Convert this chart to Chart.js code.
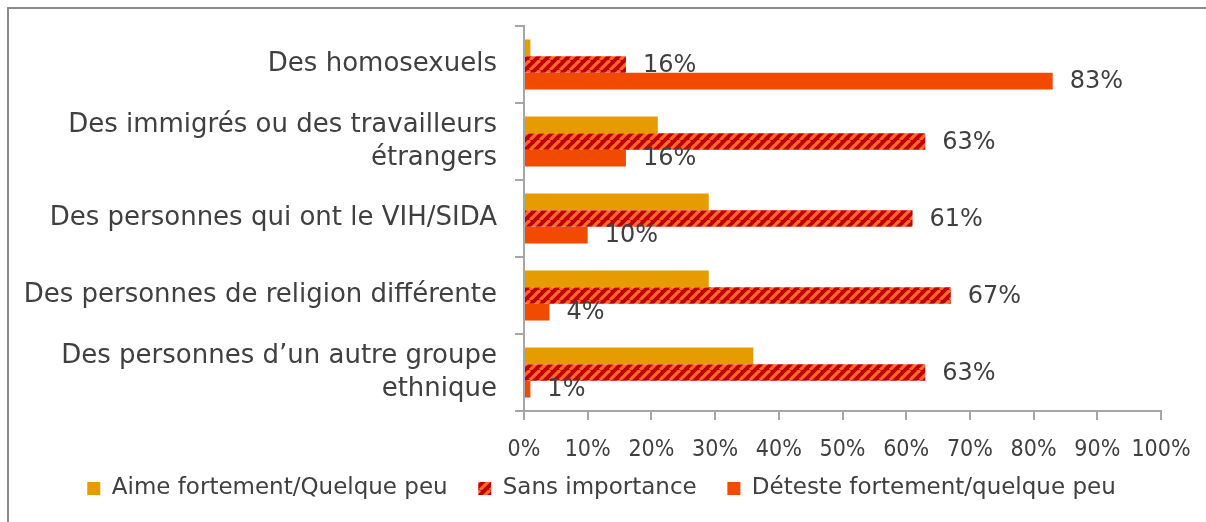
<!DOCTYPE html>
<html>
<head>
<meta charset="utf-8">
<script src="https://cdn.jsdelivr.net/npm/chart.js@4/dist/chart.umd.min.js"></script>
<style>
  html, body { margin: 0; padding: 0; background: #fff; }
  #wrap { width: 1206px; height: 522px; }
</style>
</head>
<body>
<div id="wrap"><canvas id="chart" width="1206" height="522"></canvas></div>
<script>
// catégories (axe vertical)
const categories = [
  "Des homosexuels",
  ["Des immigrés ou des travailleurs", "étrangers"],
  "Des personnes qui ont le VIH/SIDA",
  "Des personnes de religion différente",
  ["Des personnes d’un autre groupe", "ethnique"]
];

// séries (%)
const seriesNames = ["Aime fortement/Quelque peu", "Sans importance", "Déteste fortement/quelque peu"];
const aime = [1, 21, 29, 29, 36];
const sansImportance = [16, 63, 61, 67, 63];
const deteste = [83, 16, 10, 4, 1];

// axe horizontal
const xTicks = [0, 10, 20, 30, 40, 50, 60, 70, 80, 90, 100];

const textColor = "#404040";
const axisColor = "#a6a6a6";
const fontFamily = "'DejaVu Sans', sans-serif";
const condensed = "'DejaVu Sans Condensed', 'DejaVu Sans', sans-serif";

// motif hachuré pour "Sans importance"
function makeHatch() {
  const s = 10;
  const c = document.createElement("canvas");
  c.width = s;
  c.height = s;
  const g = c.getContext("2d");
  g.fillStyle = "#c00000";
  g.fillRect(0, 0, s, s);
  g.strokeStyle = "#ff6a2a";
  g.lineWidth = 3.2;
  [-s, 0, s].forEach(x0 => {
    g.beginPath();
    g.moveTo(x0, s);
    g.lineTo(x0 + s, 0);
    g.stroke();
  });
  return g.createPattern(c, "repeat");
}

const ctx = document.getElementById("chart").getContext("2d");
const hatch = makeHatch();

// étiquettes de valeur à droite des barres
const valueLabels = {
  id: "valueLabels",
  afterDatasetsDraw(chart) {
    const c = chart.ctx;
    c.save();
    c.font = "24px " + fontFamily;
    c.fillStyle = textColor;
    c.textAlign = "left";
    c.textBaseline = "middle";
    [1, 2].forEach(di => {
      const meta = chart.getDatasetMeta(di);
      meta.data.forEach((bar, i) => {
        const v = chart.data.datasets[di].data[i];
        c.fillText(v + "%", bar.x + 17, bar.y + 1);
      });
    });
    c.restore();
  }
};

// cadre (haut et gauche)
const frame = {
  id: "frame",
  beforeDraw(chart) {
    const c = chart.ctx;
    c.save();
    c.strokeStyle = "#8c8c8c";
    c.lineWidth = 2;
    c.beginPath();
    c.moveTo(8, chart.height);
    c.lineTo(8, 8);
    c.lineTo(chart.width, 8);
    c.stroke();
    c.restore();
  }
};

new Chart(ctx, {
  type: "bar",
  data: {
    labels: categories,
    datasets: [
      { label: seriesNames[0], data: aime, backgroundColor: "#e69c00" },
      { label: seriesNames[1], data: sansImportance, backgroundColor: hatch },
      { label: seriesNames[2], data: deteste, backgroundColor: "#f04b00" }
    ]
  },
  options: {
    indexAxis: "y",
    responsive: false,
    animation: false,
    categoryPercentage: 0.65,
    barPercentage: 1,
    layout: { padding: { left: 0, right: 3, top: 26, bottom: 12 } },
    scales: {
      x: {
        min: 0,
        max: 100,
        afterBuildTicks(scale) {
          scale.ticks = xTicks.map(v => ({ value: v }));
        },
        afterFit(scale) {
          scale.height = 50;
          scale.paddingLeft = 0;
          scale.paddingRight = 45;
        },
        ticks: {
          color: textColor,
          font: { family: condensed, size: 23 },
          padding: 16,
          maxRotation: 0,
          minRotation: 0,
          autoSkip: false,
          callback: v => v + "%"
        },
        grid: { drawOnChartArea: false, tickLength: 9, color: axisColor, lineWidth: 2 },
        border: { color: axisColor, width: 2 }
      },
      y: {
        afterFit(scale) {
          scale.width = 524;
          scale.paddingTop = 0;
          scale.paddingBottom = 0;
        },
        ticks: {
          color: textColor,
          font: { family: fontFamily, size: 26, lineHeight: 1.25 },
          padding: 18
        },
        grid: { drawOnChartArea: false, tickLength: 9, color: axisColor, lineWidth: 2 },
        border: { color: axisColor, width: 2 }
      }
    },
    plugins: {
      legend: {
        position: "bottom",
        labels: {
          color: textColor,
          font: { family: fontFamily, size: 23 },
          boxWidth: 13,
          boxHeight: 13,
          padding: 16,
          generateLabels(chart) {
            const items = Chart.defaults.plugins.legend.labels.generateLabels(chart);
            items.forEach((it, i) => {
              if (i < items.length - 1) it.text += "\u00a0\u00a0";
            });
            return items;
          }
        }
      },
      tooltip: { enabled: false }
    }
  },
  plugins: [valueLabels, frame]
});
</script>
</body>
</html>
